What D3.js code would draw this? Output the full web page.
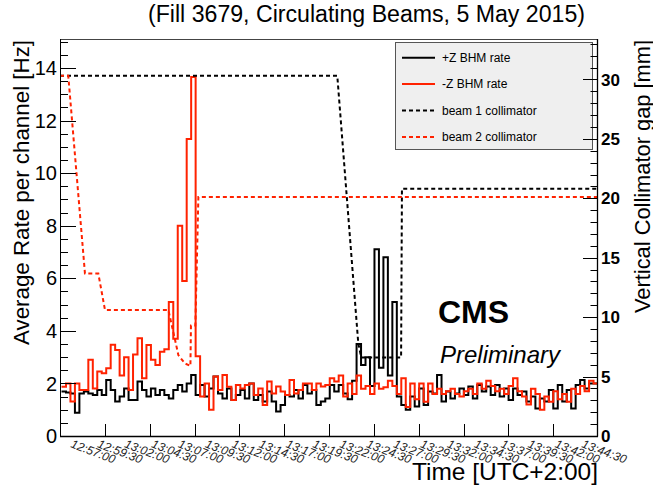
<!DOCTYPE html>
<html><head><meta charset="utf-8">
<script src="https://cdn.jsdelivr.net/npm/d3@7"></script>
<style>
body{margin:0;background:#fff}
svg{display:block;font-family:"Liberation Sans",Arial,Helvetica,sans-serif}
</style>
</head><body>
<svg id="chart" width="653" height="487"></svg>
<script>
// ---------------- data ----------------
const titleText = "(Fill 3679, Circulating Beams, 5 May 2015)";
const timeLabels = ["12:57:00","12:59:30","13:02:00","13:04:30","13:07:00","13:09:30","13:12:00","13:14:30","13:17:00","13:19:30",
                    "13:22:00","13:24:30","13:27:00","13:29:30","13:32:00","13:34:30","13:37:00","13:39:30","13:42:00","13:44:30"];
// minutes from axis start (12:55:45); histogram: 120 bins
const axisMinutes = [0, 50];
const binStartMin = 0.14;
const binWidthMin = 0.4155;
const plusZRate = [
 1.69,1.65,1.62,0.88,1.62,1.69,1.62,1.56,1.75,1.56,
 2.13,1.75,1.31,1.50,1.81,1.37,1.37,2.07,1.75,1.50,
 1.81,1.56,1.75,1.56,1.43,1.75,1.94,1.69,2.00,2.32,
 1.56,1.94,1.50,1.81,2.26,1.62,1.43,1.81,1.37,1.56,
 1.75,1.43,2.00,1.37,1.56,1.31,1.69,1.31,0.93,1.18,
 1.56,1.50,1.75,1.43,1.94,1.62,1.75,1.18,1.31,1.43,
 1.94,1.69,1.94,1.62,1.40,2.10,3.50,2.70,3.00,1.90,
 7.10,2.60,6.80,2.30,5.10,1.50,1.18,1.00,1.50,1.12,
 1.81,1.18,1.69,1.62,2.32,1.31,1.69,1.43,1.62,1.81,
 1.56,1.88,1.43,1.94,1.69,1.88,1.56,1.94,1.50,1.81,
 1.37,1.81,1.56,1.69,1.31,1.50,1.05,1.43,1.31,1.75,
 1.05,1.94,1.31,1.75,1.05,1.94,2.13,1.81,2.00,2.00];
const minusZRate = [
 1.87,2.00,1.31,2.00,1.75,1.75,2.90,1.81,2.45,2.39,
 2.58,3.47,3.27,2.30,3.00,1.75,3.10,3.72,2.20,3.46,
 2.90,2.70,3.20,3.30,5.10,3.70,8.00,5.90,11.30,13.65,
 3.03,1.50,2.00,1.00,2.26,1.75,2.32,1.87,1.37,1.94,
 1.81,1.94,2.00,1.56,1.81,1.18,2.07,1.62,1.88,1.69,
 1.56,2.13,1.62,1.75,2.00,2.00,1.75,2.00,1.88,1.94,
 2.20,2.07,2.30,1.50,2.00,1.60,2.30,1.80,1.90,1.60,
 2.00,1.80,1.85,2.10,1.90,1.60,2.20,1.10,2.00,1.40,
 2.00,1.30,2.00,1.60,1.80,1.60,1.70,1.80,1.60,1.50,
 1.70,1.80,1.60,2.00,1.80,2.10,1.90,1.70,1.80,1.60,
 1.90,2.20,1.70,1.50,1.20,1.80,1.60,1.00,1.50,1.30,
 1.70,1.40,1.60,1.30,1.80,1.60,1.90,1.70,2.10,2.00];
const beam1Time = [0, 25.77, 27.72, 28.0, 31.7, 31.78, 50];
const beam1Gap  = [30.3, 30.3, 7.8, 6.6, 6.6, 20.8, 20.8];
const beam2Time = [0, 0.77, 2.32, 3.56, 4.18, 10.07, 10.69, 11.0, 11.62, 12.12, 12.17, 12.58, 12.86, 50];
const beam2Gap  = [30.3, 30.3, 13.67, 13.67, 10.6, 10.6, 8.1, 6.8, 6.1, 5.9, 9.3, 9.3, 20.1, 20.1];
const legendLabels = ["+Z BHM rate","-Z BHM rate","beam 1 collimator","beam 2 collimator"];
const rateDomain = [0, 15.1];
const gapDomain = [0, 33.4];

// ---------------- layout ----------------
const F = {l:60, r:598, t:39, b:436};
const RED = "#ff2200";
const svg = d3.select("#chart");
const x = d3.scaleLinear().domain(axisMinutes).range([F.l, F.r]);
const yL = d3.scaleLinear().domain(rateDomain).range([F.b, F.t]);
const yR = d3.scaleLinear().domain(gapDomain).range([F.b, F.t]);

svg.append("defs").append("clipPath").attr("id","fr")
  .append("rect").attr("x",F.l).attr("y",F.t).attr("width",F.r-F.l).attr("height",F.b-F.t);

// title
svg.append("text").attr("x",(148+585)/2).attr("y",22).attr("text-anchor","middle")
  .attr("font-size",23).attr("textLength",437).attr("lengthAdjust","spacingAndGlyphs").text(titleText);

// frame
svg.append("rect").attr("x",F.l+0.5).attr("y",F.t+0.5).attr("width",F.r-F.l-1).attr("height",F.b-F.t)
  .attr("fill","none").attr("stroke","#444").attr("stroke-width",1);

const plot = svg.append("g").attr("clip-path","url(#fr)");

// histograms
function histPts(vals){
  const pts = vals.map((v,i)=>[binStartMin+i*binWidthMin, v]);
  pts.push([binStartMin+vals.length*binWidthMin, vals[vals.length-1]]);
  return pts;
}
const stepLine = d3.line().x(d=>x(d[0])).y(d=>yL(d[1])).curve(d3.curveStepAfter);
plot.append("path").attr("d",stepLine(histPts(plusZRate))).attr("fill","none").attr("stroke","#000").attr("stroke-width",2);
plot.append("path").attr("d",stepLine(histPts(minusZRate))).attr("fill","none").attr("stroke",RED).attr("stroke-width",2);

// collimator lines
const gapLine = d3.line().x(d=>x(d[0])).y(d=>yR(d[1]));
plot.append("path").attr("d",gapLine(beam1Time.map((t,i)=>[t,beam1Gap[i]])))
  .attr("fill","none").attr("stroke","#000").attr("stroke-width",2).attr("stroke-dasharray","4,3");
plot.append("path").attr("d",gapLine(beam2Time.map((t,i)=>[t,beam2Gap[i]])))
  .attr("fill","none").attr("stroke",RED).attr("stroke-width",2).attr("stroke-dasharray","4,3");

// legend
const lg = svg.append("g");
lg.append("rect").attr("x",395.5).attr("y",42.5).attr("width",197).attr("height",107)
  .attr("fill","#efefef").attr("stroke","#555").attr("stroke-width",1);
const lgStyles = [["#000",null],[RED,null],["#000","4,3"],[RED,"4,3"]];
legendLabels.forEach((lab,i)=>{
  const yy = 57.7 + i*26.4;
  lg.append("line").attr("x1",402).attr("x2",435).attr("y1",yy).attr("y2",yy)
    .attr("stroke",lgStyles[i][0]).attr("stroke-width",2).attr("stroke-dasharray",lgStyles[i][1]);
  lg.append("text").attr("x",442).attr("y",yy).attr("dy","0.36em").attr("font-size",12).text(lab);
});

// CMS text
svg.append("text").attr("x",438).attr("y",323).attr("font-size",32).attr("font-weight","bold").text("CMS");
svg.append("text").attr("x",440).attr("y",363).attr("font-size",24).attr("font-style","italic").text("Preliminary");

// left axis
const la = svg.append("g");
la.append("line").attr("x1",F.l+0.5).attr("x2",F.l+0.5).attr("y1",F.t).attr("y2",F.b+0.5).attr("stroke","#000");
d3.range(0, rateDomain[1]+0.001, 0.5).forEach(v=>{
  const major = Math.abs(v/2-Math.round(v/2))<1e-6;
  const yy = Math.round(yL(v))+0.5;
  la.append("line").attr("x1",F.l).attr("x2",F.l+(major?16:8)).attr("y1",yy).attr("y2",yy).attr("stroke","#000");
  if(major) la.append("text").attr("x",57).attr("y",yL(v)).attr("dy","0.36em").attr("text-anchor","end")
     .attr("font-size",20).text(v);
});
svg.append("text").attr("transform",`translate(28.5,${(40+345)/2}) rotate(-90)`).attr("text-anchor","middle")
  .attr("font-size",22).attr("textLength",305).attr("lengthAdjust","spacingAndGlyphs").text("Average Rate per channel [Hz]");

// right axis
const ra = svg.append("g");
ra.append("line").attr("x1",F.r-0.5).attr("x2",F.r-0.5).attr("y1",F.t).attr("y2",F.b+0.5).attr("stroke","#000").attr("stroke-width",1.3);
d3.range(0, 34, 1).forEach(v=>{
  if (v>gapDomain[1]) return;
  const major = v%5===0;
  const yy = Math.round(yR(v))+0.5;
  ra.append("line").attr("x1",F.r).attr("x2",F.r-(major?15:7.5)).attr("y1",yy).attr("y2",yy).attr("stroke","#000");
  if(major) ra.append("text").attr("x",601).attr("y",yR(v)).attr("dy","0.36em").attr("font-size",17)
     .attr("font-weight","bold").text(v);
});
svg.append("text").attr("transform",`translate(649.5,${(40+313)/2}) rotate(-90)`).attr("text-anchor","middle")
  .attr("font-size",22).attr("textLength",273).attr("lengthAdjust","spacingAndGlyphs").text("Vertical Collimator gap [mm]");

// bottom axis
const ba = svg.append("g");
ba.append("line").attr("x1",F.l).attr("x2",F.r).attr("y1",F.b+0.5).attr("y2",F.b+0.5).attr("stroke","#000").attr("stroke-width",1.3);
const nDiv = 12;
d3.range(1, nDiv).forEach(k=>{
  const xx = Math.round(x(axisMinutes[0]+k*(axisMinutes[1]-axisMinutes[0])/nDiv))+0.5;
  ba.append("line").attr("x1",xx).attr("x2",xx).attr("y1",F.b).attr("y2",F.b-12).attr("stroke","#000");
});
const slot = (axisMinutes[1]-axisMinutes[0])/timeLabels.length;
timeLabels.forEach((lab,k)=>{
  const cx = x(axisMinutes[0]+(k+0.5)*slot);
  ba.append("text").attr("transform",`translate(${cx-3.5},447) rotate(21)`).attr("font-size",12)
    .attr("font-style","italic").attr("fill","#222").text(lab);
});
svg.append("text").attr("x",598).attr("y",480).attr("text-anchor","end").attr("font-size",24)
  .attr("textLength",186).attr("lengthAdjust","spacingAndGlyphs").text("Time [UTC+2:00]");
</script>
</body></html>
